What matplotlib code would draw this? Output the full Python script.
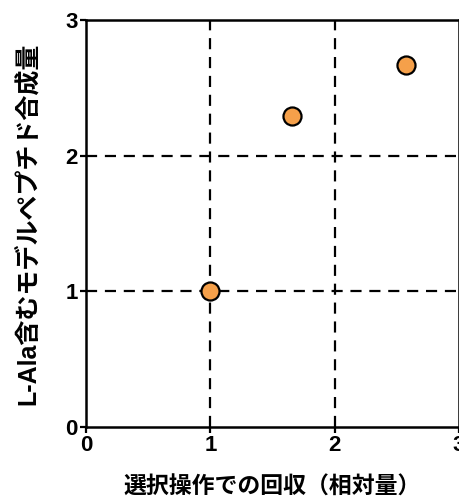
import matplotlib
matplotlib.use("Agg")
import matplotlib.pyplot as plt

plt.rcParams['font.family'] = ['Liberation Sans', 'Noto Sans CJK JP', 'DejaVu Sans']

# data
recovery = [1.0, 1.66, 2.57]
synthesis = [1.0, 2.29, 2.67]
ticks = [0, 1, 2, 3]

fig = plt.figure(figsize=(4.6, 5.01), dpi=100)
ax = fig.add_axes([0.187, 0.148, 0.811, 0.812])

# dashed reference lines
for v in [1, 2]:
    ax.axvline(v, color='black', lw=1.6, ls=(0, (5, 3.5)), zorder=1)
    ax.axhline(v, color='black', lw=1.6, ls=(0, (5, 3.5)), zorder=1)

ax.plot(recovery, synthesis, 'o', ms=13, mfc='#F5A04A', mec='black', mew=1.6,
        zorder=3, clip_on=False)

ax.set_xlim(0, 3)
ax.set_ylim(0, 3)
ax.set_xticks(ticks)
ax.set_yticks(ticks)
ax.set_xticklabels([str(t) for t in ticks], fontsize=16, fontweight='bold')
ax.set_yticklabels([str(t) for t in ticks], fontsize=16, fontweight='bold')
ax.tick_params(direction='out', length=4, width=1.6, pad=2)
for s in ax.spines.values():
    s.set_linewidth(1.8)

ax.set_xlabel('選択操作での回収（相対量）', fontsize=16.5, fontweight='bold', labelpad=14)
ax.set_ylabel('L-Ala含むモデルペプチド合成量', fontsize=18, fontweight='bold', labelpad=18)

fig.savefig('out.png', dpi=100)
